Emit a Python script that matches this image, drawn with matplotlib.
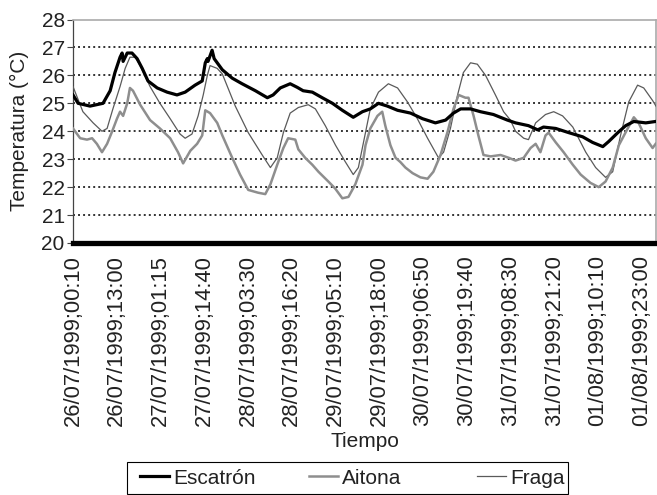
import matplotlib
matplotlib.use('Agg')
import matplotlib.pyplot as plt
from matplotlib.lines import Line2D
from matplotlib.patches import Rectangle

plt.rcParams['font.family'] = ['Liberation Sans', 'DejaVu Sans']

# hours since 26/07/1999 00:10 and temperature (°C)
esc_h = [0, 1.5, 5.0, 8.8, 10.9, 12.3, 13.8, 14.4, 14.7, 15.9, 17.3, 18.8, 20.3, 22.0,
         24.7, 27.6, 30.5, 32.9, 35.8, 37.9, 38.8, 39.4, 39.6, 40.8, 41.4, 42.6, 43.8,
         46.7, 49.6, 53.5, 57.0, 58.7, 60.8, 63.7, 65.8, 67.5, 70.2, 73.1, 76.1, 79.0,
         82.2, 84.9, 87.2, 89.6, 92.2, 95.2, 99.0, 102.5, 106.3, 109.3, 111.6, 113.7,
         116.6, 119.5, 123.3, 127.4, 129.8, 133.6, 136.3, 138.0, 141.6, 145.4, 149.5,
         152.4, 155.4, 157.1, 159.8, 162.1, 164.5, 168.0, 170.9]
esc_t = [25.3, 25.0, 24.9, 25.0, 25.45, 26.1, 26.65, 26.8, 26.5, 26.8, 26.8, 26.6, 26.25, 25.8,
         25.55, 25.4, 25.3, 25.4, 25.65, 25.8, 26.45, 26.6, 26.5, 26.9, 26.6, 26.4, 26.2,
         25.9, 25.7, 25.45, 25.2, 25.3, 25.55, 25.7, 25.57, 25.45, 25.4, 25.2, 25.0, 24.75,
         24.5, 24.7, 24.8, 25.0, 24.9, 24.75, 24.65, 24.45, 24.3, 24.4, 24.65, 24.8,
         24.8, 24.7, 24.6, 24.4, 24.3, 24.2, 24.05, 24.15, 24.1, 23.95, 23.8,
         23.6, 23.45, 23.63, 23.95, 24.2, 24.35, 24.3, 24.35]

ait_h = [0, 2.1, 4.1, 5.6, 7.0, 8.5, 10.0, 11.5, 12.9, 13.8, 14.7, 15.9, 16.7, 17.6, 19.7,
         22.6, 25.5, 28.5, 30.8, 32.3, 34.4, 36.4, 37.9, 38.8, 40.2, 42.3, 43.8, 46.7,
         49.0, 51.4, 54.3, 56.4, 57.9, 59.9, 61.7, 63.1, 65.2, 66.1, 68.1, 70.2, 72.0,
         74.9, 76.9, 79.0, 80.8, 82.8, 84.9, 85.8, 87.2, 89.3, 90.7, 91.6, 93.1, 94.6,
         96.0, 97.5, 99.6, 101.9, 104.0, 105.7, 107.8, 109.8, 111.6, 113.1, 115.1, 116.0,
         117.5, 118.9, 120.4, 122.5, 125.4, 127.8, 129.8, 132.2, 134.2, 135.7, 137.1,
         138.6, 139.5, 141.6, 143.9, 146.6, 148.9, 151.8, 154.2, 156.2, 158.3, 160.1,
         162.7, 164.5, 165.9, 168.0, 170.0, 170.9]
ait_t = [24.1, 23.75, 23.7, 23.75, 23.55, 23.25, 23.55, 24.0, 24.45, 24.7, 24.55, 25.0, 25.55, 25.45, 24.95,
         24.4, 24.1, 23.75, 23.25, 22.85, 23.3, 23.55, 23.85, 24.75, 24.65, 24.3, 23.85, 23.05,
         22.45, 21.9, 21.8, 21.75, 22.1, 22.8, 23.4, 23.75, 23.7, 23.35, 23.05, 22.8, 22.55,
         22.2, 21.95, 21.6, 21.65, 22.1, 22.8, 23.5, 24.1, 24.55, 24.7, 24.2, 23.5, 23.05,
         22.9, 22.7, 22.5, 22.35, 22.3, 22.55, 23.15, 23.95, 24.8, 25.3, 25.2, 25.2,
         24.55, 23.85, 23.15, 23.1, 23.15, 23.05, 22.95, 23.05, 23.4, 23.55, 23.25,
         23.85, 23.95, 23.6, 23.25, 22.8, 22.45, 22.15, 22.0, 22.2, 22.7, 23.5,
         24.1, 24.5, 24.3, 23.75, 23.4, 23.55]

fra_h = [0, 2.9, 5.9, 8.5, 10.0, 11.7, 13.8, 15.3, 16.7, 18.2, 19.7, 22.6, 25.5, 28.5,
         31.4, 32.9, 34.9, 36.7, 38.2, 39.4, 40.2, 42.3, 43.8, 47.6, 51.4, 55.5, 57.9,
         59.9, 61.7, 63.7, 66.1, 69.0, 71.1, 74.0, 77.0, 79.9, 82.2, 83.7, 85.2, 87.2,
         89.6, 92.5, 95.2, 98.1, 101.0, 104.0, 107.2, 108.7, 110.7, 112.8, 114.5, 116.6,
         118.6, 121.0, 123.9, 126.3, 128.3, 129.8, 132.2, 133.6, 135.7, 138.6, 141.0,
         143.6, 146.6, 150.4, 153.3, 156.2, 158.3, 160.6, 163.0, 165.6, 167.4, 170.0, 171.5]
fra_t = [25.6, 24.7, 24.3, 24.0, 24.1, 24.8, 25.6, 26.25, 26.65, 26.65, 26.35, 25.6, 25.0, 24.45,
         23.9, 23.75, 23.9, 24.55, 25.3, 26.0, 26.35, 26.25, 26.05, 24.9, 23.95, 23.15, 22.7,
         23.05, 23.95, 24.65, 24.85, 24.95, 24.8, 24.2, 23.5, 22.9, 22.45, 22.7, 23.6, 24.8,
         25.4, 25.7, 25.55, 25.05, 24.45, 23.75, 23.05, 23.25, 24.1, 25.3, 26.1, 26.45,
         26.4, 26.0, 25.3, 24.7, 24.4, 24.0, 23.75, 23.7, 24.3, 24.6, 24.7,
         24.55, 24.15, 23.25, 22.7, 22.35, 22.55, 23.85, 25.05, 25.65, 25.55, 25.1, 24.8]

tick_labels = ['26/07/1999;00:10', '26/07/1999;13:00', '27/07/1999;01:15', '27/07/1999;14:40',
               '28/07/1999;03:30', '28/07/1999;16:20', '29/07/1999;05:10', '29/07/1999;18:00',
               '30/07/1999;06:50', '30/07/1999;19:40', '31/07/1999;08:30', '31/07/1999;21:20',
               '01/08/1999;10:10', '01/08/1999;23:00']
tick_step = 12 + 50 / 60.0
grid_levels = [21, 22, 23, 24, 25, 26, 27]

names = ['Escatrón', 'Aitona', 'Fraga']
colors = ['black', '#8e8e8e', '#5a5a5a']
widths = [2.3, 1.8, 0.9]

W, H = 657.0, 495.0
fig = plt.figure(figsize=(W / 100, H / 100), dpi=100)
ax = fig.add_axes([73 / W, 1 - 243 / H, 583 / W, (243 - 19.5) / H])

ax.set_xlim(0, 171)
ax.set_ylim(20, 28)

# dotted horizontal grid
ax.hlines(grid_levels, 0, 171, colors='#333333', linewidths=1.4,
          linestyles=(0, (1.0, 1.6)), zorder=2)

ax.plot(fra_h, fra_t, color=colors[2], lw=widths[2], zorder=3)
ax.plot(ait_h, ait_t, color=colors[1], lw=widths[1], zorder=4)
ax.plot(esc_h, esc_t, color=colors[0], lw=widths[0], zorder=5)

ax.set_yticks(range(20, 29))
ax.set_xticks([i * tick_step for i in range(len(tick_labels))])
ax.set_xticklabels(tick_labels, rotation=90, fontsize=15.8, color='#222222')
ax.tick_params(axis='x', length=0, pad=9)
ax.tick_params(axis='y', length=4, width=0.8, color='#444444', labelsize=15,
               labelcolor='#222222', pad=2)

ax.spines['bottom'].set_linewidth(3.8)
ax.spines['bottom'].set_color('black')
ax.spines['bottom'].set_zorder(6)
ax.spines['left'].set_color('#444444')
ax.spines['left'].set_linewidth(0.9)
for s in ['top', 'right']:
    ax.spines[s].set_color('#aaaaaa')
    ax.spines[s].set_linewidth(1.2)

ax.set_ylabel('Temperatura (°C)', fontsize=15, color='#222222', labelpad=9)
ax.set_xlabel('Tiempo', fontsize=15, color='#222222', labelpad=4)

# legend: box with three evenly spaced entries
fig.patches.append(Rectangle((127 / W, 1 - 494 / H), 441 / W, 32 / H, transform=fig.transFigure,
                             fill=False, edgecolor='black', lw=0.8))
for i, (name, c, lw) in enumerate(zip(names, colors, widths)):
    fig.legend([Line2D([], [], color=c, lw=lw)], [name], loc='center left',
               bbox_to_anchor=((140 + i * 168.5) / W, 1 - 478 / H), frameon=False,
               fontsize=15, handlelength=1.4, handletextpad=0.2, borderpad=0,
               borderaxespad=0, labelcolor='#222222')

fig.savefig('out.png', dpi=100)
